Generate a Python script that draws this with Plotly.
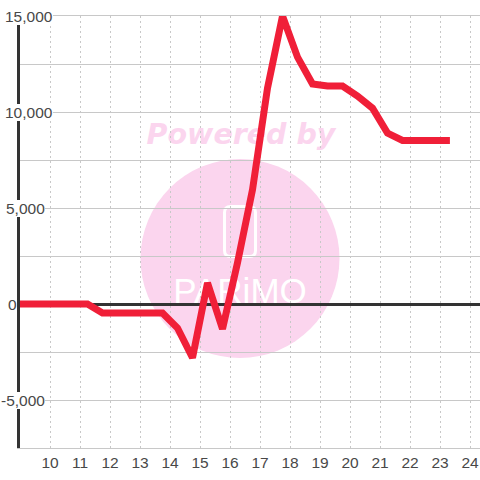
import plotly.graph_objects as go

hours = [8.9, 9.25, 9.75, 10.25, 10.75, 11.25, 11.75, 12.25, 12.75, 13.25, 13.75, 14.25, 14.75,
         15.25, 15.75, 16.25, 16.75, 17.25, 17.75, 18.25, 18.75, 19.25, 19.75, 20.25, 20.75,
         21.25, 21.75, 22.25, 22.75, 23.33]
values = [0, 0, 0, 0, 0, 0, -470, -470, -470, -470, -470, -1250, -2800,
          1100, -1300, 2150, 5950, 11250, 15000, 12860, 11460, 11350, 11350, 10830, 10200,
          8900, 8520, 8520, 8520, 8520]

x_ticks = list(range(10, 25))
y_ticks = [15000, 10000, 5000, 0, -5000]
y_labels = ["15,000", "10,000", "5,000", "0", "-5,000"]

W, PL, PT, PW, PH = 480, 20, 16, 460, 432
def px(v): return (v - PL) / PW
def py(v): return 1 - (v - PT) / PH

INK = "#484848"
PINK = "#fbd5ee"
GRID = "#c8c8c8"
FONT = "Liberation Sans"

fig = go.Figure(go.Scatter(
    x=hours, y=values, mode="lines",
    line=dict(color="#f01f38", width=7), cliponaxis=False, hoverinfo="skip",
))

def box(x0, y0, x1, y1, text, size, color, family):
    return dict(type="rect", xref="paper", yref="paper", layer="below",
                x0=px(x0), x1=px(x1), y0=py(y1), y1=py(y0),
                fillcolor="rgba(0,0,0,0)", line=dict(width=0),
                label=dict(text=text, font=dict(size=size, color=color, family=family),
                           textposition="middle center"))

x0r, x1r, y0r, y1r, r = 224.5, 255.5, 206.5, 256.5, 6
rounded = (f"M{px(x0r+r)},{py(y0r)} L{px(x1r-r)},{py(y0r)} Q{px(x1r)},{py(y0r)} {px(x1r)},{py(y0r+r)} "
           f"L{px(x1r)},{py(y1r-r)} Q{px(x1r)},{py(y1r)} {px(x1r-r)},{py(y1r)} "
           f"L{px(x0r+r)},{py(y1r)} Q{px(x0r)},{py(y1r)} {px(x0r)},{py(y1r-r)} "
           f"L{px(x0r)},{py(y0r+r)} Q{px(x0r)},{py(y0r)} {px(x0r+r)},{py(y0r)} Z")

shapes = [
    dict(type="circle", xref="paper", yref="paper", layer="below",
         x0=px(140.5), x1=px(339.5), y0=py(358), y1=py(159),
         fillcolor=PINK, line=dict(width=0)),
    dict(type="path", xref="paper", yref="paper", layer="below", path=rounded,
         fillcolor="rgba(0,0,0,0)", line=dict(color="white", width=3)),
    box(130, 113, 352, 151, "<b><i>Powered by</i></b>", 28.5, PINK, "DejaVu Sans"),
    box(160, 266, 320, 308, "PARiMO", 35, "white", FONT),
]

label_center = {"15,000": 29, "10,000": 29, "5,000": 25, "0": 12, "-5,000": 22.5}
annotations = [
    dict(text=t, xref="paper", yref="y", x=0, y=v, xanchor="center", yanchor="middle",
         xshift=label_center[t] - PL, showarrow=False, bgcolor="white", borderpad=0,
         borderwidth=0, font=dict(family=FONT, size=15.5, color=INK))
    for t, v in zip(y_labels, y_ticks)
]

fig.update_layout(
    width=W, height=W, autosize=False, showlegend=False,
    margin=dict(l=PL, r=0, t=PT, b=32, pad=0),
    paper_bgcolor="white", plot_bgcolor="white",
    font=dict(family=FONT, size=15, color=INK),
    shapes=shapes, annotations=annotations,
    xaxis=dict(range=[9, 24.333], tickvals=x_ticks, ticktext=[str(v) for v in x_ticks],
               showgrid=True, gridcolor=GRID, griddash="2px,3px", gridwidth=1,
               zeroline=False, showline=True, mirror=True, linecolor=GRID, linewidth=1,
               ticks="",
               tickfont=dict(family=FONT, size=15.5, color=INK), layer="below traces"),
    yaxis=dict(range=[-7500, 15000], dtick=2500, tick0=0, showticklabels=False,
               showgrid=True, gridcolor=GRID, gridwidth=1,
               zeroline=True, zerolinecolor="#333333", zerolinewidth=3,
               showline=True, linecolor="#333333", linewidth=3, ticks="",
               layer="below traces"),
)
fig.write_html("out.html", config={"displayModeBar": False, "staticPlot": True},
               post_script="document.body.style.margin='0';document.body.style.overflow='hidden';")
